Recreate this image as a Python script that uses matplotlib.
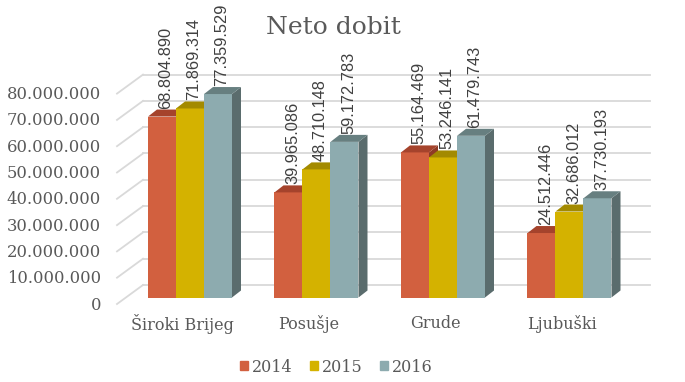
import matplotlib.pyplot as plt
from matplotlib.patches import Patch

cities = ["Široki Brijeg", "Posušje", "Grude", "Ljubuški"]
years = ["2014", "2015", "2016"]
v2014 = [68804890, 39965086, 55164469, 24512446]
v2015 = [71869314, 48710148, 53246141, 32686012]
v2016 = [77359529, 59172783, 61479743, 37730193]
yticks = [0, 10000000, 20000000, 30000000, 40000000, 50000000, 60000000, 70000000, 80000000]

series = [v2014, v2015, v2016]
front_cols = ["#D2603F", "#D4B200", "#8DABAF"]
top_cols = ["#A5432C", "#A38A00", "#677F80"]
side_cols = ["#8F3A26", "#8A7400", "#5A6C6D"]
text_col = "#595959"
serif = "DejaVu Serif"


def fmt(v):
    return f"{v:,.0f}".replace(",", ".")


# x axis in pixels, y axis in values; 1 px vertical = YPX value units
W, H = 685, 382
BASE = 297.5            # pixel row of the zero line on the bar fronts
YPX = 1e7 / 26.3
DX, DY = 9, 7 * YPX     # depth of the bars


def py(p):
    # pixel row -> value units
    return (BASE - p) * YPX


fig = plt.figure(figsize=(6.85, 3.82), dpi=100)
ax = fig.add_axes([0, 0, 1, 1])
ax.set_xlim(0, W)
ax.set_ylim(py(H), py(0))
ax.axis("off")

# back wall + floor grid
for v in yticks:
    ax.plot([143, 650], [v + 12.5 * YPX] * 2, color="#d9d9d9", lw=1.3, zorder=1)
    ax.plot([117, 143], [v - 6.5 * YPX, v + 12.5 * YPX], color="#d9d9d9", lw=1.3, zorder=1)
    ax.text(101, v - 7.5 * YPX, fmt(v), ha="right", va="center",
            fontsize=11.8, family=serif, color=text_col)

# bars, left to right so the next front hides the previous side
bw = 28
z = 3
for i, city in enumerate(cities):
    c = 190 + i * 126.5
    for j in range(3):
        h = series[j][i]
        x0 = c + (j - 1) * bw - bw / 2
        ax.fill([x0 + bw, x0 + bw + DX, x0 + bw + DX, x0 + bw],
                [0, DY, h + DY, h], color=side_cols[j], lw=0, zorder=z)
        ax.bar(x0, h, width=bw, align="edge", color=front_cols[j], lw=0, zorder=z + 1)
        ax.fill([x0, x0 + bw, x0 + bw + DX, x0 + DX],
                [h, h, h + DY, h + DY], color=top_cols[j], lw=0, zorder=z + 1)
        z += 2
        ax.text(x0 + bw / 2 + 4, h + DY + 1 * YPX, fmt(h), rotation=90,
                ha="center", va="bottom", fontsize=11.8, family="Liberation Sans",
                color="#404040", zorder=50)
    ax.text(c - 7.5, py(324), city, ha="center", va="center",
            fontsize=11.5, family=serif, color=text_col)

ax.text(333, py(28), "Neto dobit", ha="center", va="center",
        fontsize=18, family=serif, color=text_col)

handles = [Patch(color=front_cols[j]) for j in range(3)]
fig.legend(handles, years, loc="center", bbox_to_anchor=(336.5 / W, 1 - 367 / H),
           ncol=3, frameon=False, handlelength=0.5, handleheight=0.5,
           handletextpad=0.25, columnspacing=1.1,
           prop={"family": serif, "size": 11.5}, labelcolor=text_col)

fig.savefig("out.png", dpi=100)
